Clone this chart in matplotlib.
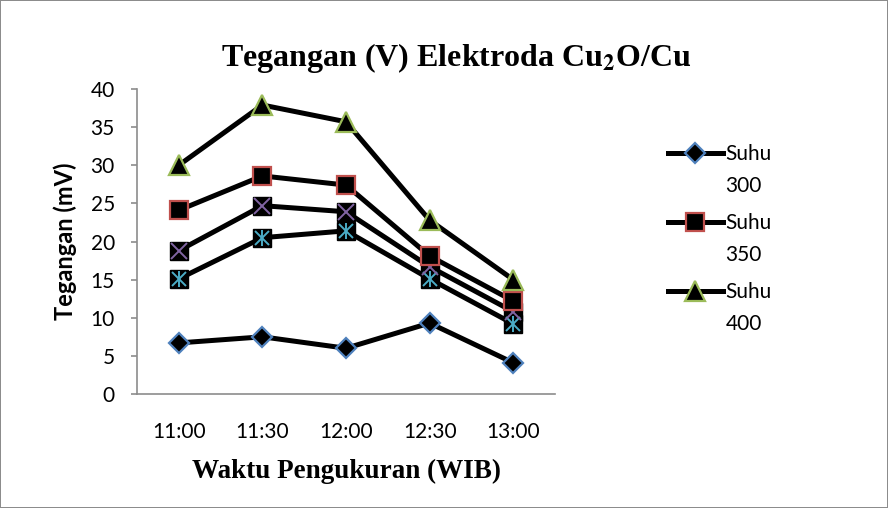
import matplotlib.pyplot as plt

plt.rcParams['mathtext.fontset'] = 'stix'

# ---- data ----
waktu = ['11:00', '11:30', '12:00', '12:30', '13:00']
suhu_300 = [6.7, 7.5, 6.0, 9.3, 4.1]
suhu_350 = [24.1, 28.6, 27.4, 18.1, 12.2]
suhu_400 = [30.0, 37.9, 35.7, 22.8, 15.0]
seri_4 = [18.8, 24.7, 23.9, 16.7, 10.8]
seri_5 = [15.1, 20.5, 21.4, 15.1, 9.2]
legend_nama = ['Suhu', 'Suhu', 'Suhu']
legend_nilai = ['300', '350', '400']

fig = plt.figure(figsize=(8.88, 5.08), dpi=100)
fig.patch.set_edgecolor('#8c8c8c')
fig.patch.set_linewidth(1.2)
ax = fig.add_axes([137/888, 1 - 394/508, (555-137)/888, (394-89)/508])

x = list(range(len(waktu)))
lw = 3.6
ms = 13

# star series (black square + cyan asterisk)
ax.plot(x, seri_5, color='black', lw=lw, marker='s', ms=ms, mfc='black', mec='black', zorder=3)
ax.plot(x, seri_5, ls='none', marker='x', ms=ms-3, mec='#4bacc6', mew=1.4, zorder=4)
ax.plot(x, seri_5, ls='none', marker='|', ms=ms-1, mec='#4bacc6', mew=1.4, zorder=4)
# x series (black square + purple x)
ax.plot(x, seri_4, color='black', lw=lw, marker='s', ms=ms, mfc='black', mec='black', zorder=3)
ax.plot(x, seri_4, ls='none', marker='x', ms=ms-1, mec='#8064a2', mew=1.4, zorder=4)

l1, = ax.plot(x, suhu_300, color='black', lw=lw, marker='D', ms=10.5, mfc='black',
              mec='#4f81bd', mew=1.6, zorder=5)
l2, = ax.plot(x, suhu_350, color='black', lw=lw, marker='s', ms=13.5, mfc='black',
              mec='#c0504d', mew=1.6, zorder=5)
l3, = ax.plot(x, suhu_400, color='black', lw=lw, marker='^', ms=15, mfc='black',
              mec='#9bbb59', mew=1.6, zorder=5)

ax.set_xlim(-0.5, len(waktu) - 0.5)
ax.set_ylim(0, 40)
ax.set_yticks(range(0, 41, 5))
ax.set_xticks(x)
ax.set_xticklabels(waktu)
ax.tick_params(axis='both', labelsize=15, colors='#8c8c8c', labelcolor='black', length=4, width=1.2)
ax.tick_params(axis='y', pad=12)
ax.tick_params(axis='x', length=0, pad=20)
for lab in ax.get_xticklabels() + ax.get_yticklabels():
    lab.set_fontfamily('Lato')
for side in ['top', 'right']:
    ax.spines[side].set_visible(False)
for side in ['left', 'bottom']:
    ax.spines[side].set_color('#8c8c8c')
    ax.spines[side].set_linewidth(1.2)

ax.set_ylabel('Tegangan (mV)', fontsize=17, fontweight='bold', family='Lato', labelpad=10)
ax.set_xlabel('Waktu Pengukuran (WIB)', fontsize=19.5, fontweight='bold',
              family='Liberation Serif', labelpad=12)

fig.text(456/888, 1 - 58/508, r'Tegangan (V) Elektroda Cu$_\mathbf{2}$O/Cu', ha='center', va='center',
         fontsize=23, fontweight='bold', family='Liberation Serif')

leg = fig.legend([l1, l2, l3], legend_nama, loc='upper left', bbox_to_anchor=(660/888, 1 - 136/508),
                 frameon=False, prop={'family': 'Lato', 'size': 15}, handlelength=2.6,
                 handletextpad=0.15, labelspacing=2.35, borderaxespad=0)
fig.canvas.draw()
for t, nilai in zip(leg.get_texts(), legend_nilai):
    ax.annotate(nilai, xy=(0, 0.5), xycoords=t, xytext=(0, -23), textcoords='offset points',
                ha='left', va='center', fontsize=15, family='Lato', annotation_clip=False)

fig.savefig('out.png', dpi=100)
